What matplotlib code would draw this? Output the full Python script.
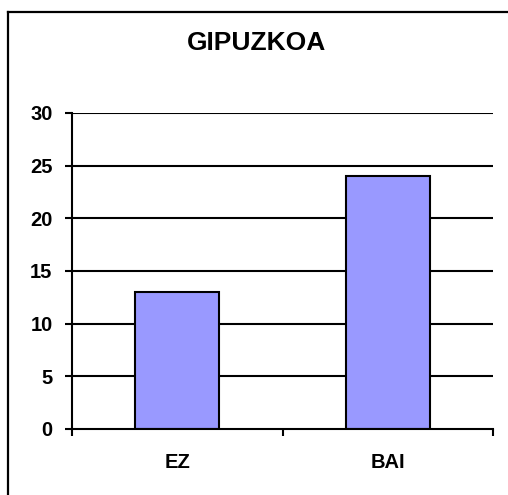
import matplotlib.pyplot as plt
from matplotlib.lines import Line2D

plt.rcParams['font.family'] = ['Liberation Sans', 'DejaVu Sans']
plt.rcParams['font.weight'] = 'bold'

categories = ['EZ', 'BAI']
values = [13, 24]
yticks = [0, 5, 10, 15, 20, 25, 30]

W, H = 508, 495
fig = plt.figure(figsize=(W / 100, H / 100), dpi=100)

# outer frame: only the top and left sides are inside the image
fx, fy = 7.5 / W, 1 - 11.5 / H
fig.add_artist(Line2D([fx, 1.05], [fy, fy], transform=fig.transFigure, color='black', linewidth=1.6))
fig.add_artist(Line2D([fx, fx], [fy, -0.05], transform=fig.transFigure, color='black', linewidth=1.6))

ax = fig.add_axes([72 / W, 1 - 429 / H, (493 - 72) / W, (429 - 113) / H])
x = range(len(categories))
ax.bar(x, values, width=0.4, color='#9999ff', edgecolor='black', linewidth=1.5, zorder=3)

ax.set_xlim(-0.5, 1.5)
ax.set_ylim(0, 30)
ax.set_yticks(yticks)
ax.set_xticks([-0.5, 0.5, 1.5])
ax.set_xticklabels([])
ax.set_xticks(list(x), minor=True)
ax.set_xticklabels(categories, minor=True, fontsize=14.5, fontweight='bold')
ax.tick_params(axis='x', which='minor', length=0, pad=17)
ax.tick_params(axis='x', which='major', length=5, width=1.5, direction='out')
ax.tick_params(axis='y', length=5, width=1.5, direction='out', labelsize=14.5, pad=9)

for t in yticks[1:]:
    ax.axhline(t, color='black', linewidth=1.5, zorder=1)

for s in ['top', 'right']:
    ax.spines[s].set_visible(False)
for s in ['left', 'bottom']:
    ax.spines[s].set_linewidth(1.5)
ax.spines['bottom'].set_zorder(4)

fig.text(257 / W, 1 - 43 / H, 'GIPUZKOA', ha='center', va='center', fontsize=19, fontweight='bold')

fig.savefig('out.png', dpi=100)
